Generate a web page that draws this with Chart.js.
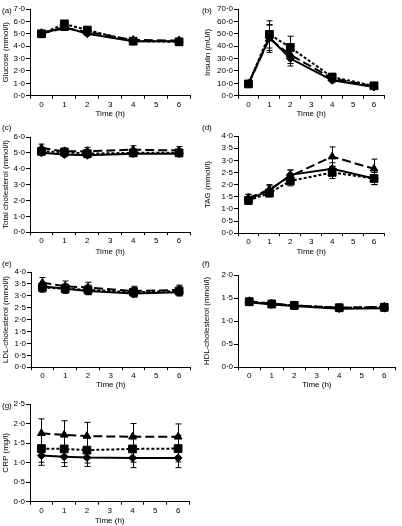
<!DOCTYPE html>
<html><head><meta charset="utf-8">
<script src="https://cdn.jsdelivr.net/npm/chart.js@4/dist/chart.umd.min.js"></script>
<style>
html,body{margin:0;padding:0;background:#fff;width:402px;height:526px;overflow:hidden;position:relative;font-family:'Liberation Sans',Arial,sans-serif}
canvas{position:absolute}
.lab{position:absolute;font-size:8px;color:#000;line-height:9px;white-space:nowrap}
</style></head><body>
<script>
// ---- data ----
const timeLabels = ['0','1','2','3','4','5','6'];
const times = [0,1,2,4,6];

// (a) Glucose (mmol/l)
const glucoseDiamond = [5.0, 5.55, 5.0, 4.4, 4.4];
const glucoseSquare = [5.0, 5.8, 5.3, 4.4, 4.35];
const glucoseTriangle = [5.05, 5.45, 5.15, 4.5, 4.45];
const glucoseErrDiamond = [0.1, 0.15, 0.12, 0.1, 0.1];
const glucoseErrSquare = [0.1, 0.15, 0.15, 0.1, 0.1];
const glucoseErrTriangle = [0.1, 0.12, 0.12, 0.1, 0.1];

// (b) Insulin (mU/l)
const insulinDiamond = [9.5, 47, 30, 12.5, 7];
const insulinSquare = [9.5, 49.5, 39, 15, 8];
const insulinTriangle = [9.5, 46, 33, 14, 7.5];
const insulinErrDiamond = [1, 10.5, 6, 2, 1];
const insulinErrSquare = [1, 11, 9, 3, 1.5];
const insulinErrTriangle = [1, 11, 7, 2.5, 1.5];

// (c) Total cholesterol (mmol/l)
const tcDiamond = [5.0, 4.9, 4.85, 4.95, 4.95];
const tcSquare = [5.1, 5.05, 4.95, 5.0, 5.0];
const tcTriangle = [5.3, 5.1, 5.1, 5.2, 5.15];
const tcErrDiamond = [0.15, 0.15, 0.15, 0.15, 0.15];
const tcErrSquare = [0.2, 0.2, 0.2, 0.2, 0.2];
const tcErrTriangle = [0.25, 0.2, 0.25, 0.25, 0.25];

// (d) TAG (mmol/l)
const tagDiamond = [1.4, 1.75, 2.4, 2.65, 2.25];
const tagSquare = [1.35, 1.65, 2.15, 2.5, 2.25];
const tagTriangle = [1.45, 1.8, 2.35, 3.15, 2.65];
const tagErrDiamond = [0.2, 0.2, 0.2, 0.25, 0.25];
const tagErrSquare = [0.15, 0.15, 0.2, 0.25, 0.25];
const tagErrTriangle = [0.15, 0.2, 0.25, 0.4, 0.4];

// (e) LDL-cholesterol (mmol/l)
const ldlDiamond = [3.4, 3.3, 3.2, 3.1, 3.15];
const ldlSquare = [3.35, 3.3, 3.25, 3.15, 3.2];
const ldlTriangle = [3.55, 3.4, 3.35, 3.2, 3.25];
const ldlErrDiamond = [0.15, 0.15, 0.15, 0.15, 0.15];
const ldlErrSquare = [0.2, 0.2, 0.2, 0.2, 0.2];
const ldlErrTriangle = [0.22, 0.22, 0.22, 0.2, 0.2];

// (f) HDL-cholesterol (mmol/l)
const hdlDiamond = [1.41, 1.36, 1.33, 1.27, 1.28];
const hdlSquare = [1.42, 1.37, 1.34, 1.29, 1.30];
const hdlTriangle = [1.43, 1.38, 1.34, 1.29, 1.31];
const hdlErrDiamond = [0.06, 0.06, 0.06, 0.06, 0.06];
const hdlErrSquare = [0.07, 0.07, 0.07, 0.07, 0.07];
const hdlErrTriangle = [0.07, 0.07, 0.07, 0.07, 0.07];

// (g) CRP (mg/l)
const crpDiamond = [1.18, 1.15, 1.13, 1.12, 1.12];
const crpSquare = [1.36, 1.35, 1.32, 1.35, 1.36];
const crpTriangle = [1.75, 1.71, 1.68, 1.66, 1.66];
const crpErrDiamond = [0.25, 0.25, 0.23, 0.25, 0.25];
const crpErrSquare = [0.35, 0.35, 0.33, 0.34, 0.34];
const crpErrTriangle = [0.37, 0.36, 0.35, 0.34, 0.33];

// ---- layout (page pixels) ----
const panels = [
  {letter:'(a)', title:'Glucose (mmol/l)', max:7, step:1, x0:0, L:30, R:193, T:9, B:96, tx:6, titY:114.5, lx:2, ly:10,
   series:[[glucoseDiamond,glucoseErrDiamond],[glucoseSquare,glucoseErrSquare],[glucoseTriangle,glucoseErrTriangle]]},
  {letter:'(b)', title:'Insulin (mU/l)', max:70, step:10, x0:200, L:238, R:387, T:9, B:96, tx:208, titY:114.5, lx:202, ly:10,
   series:[[insulinDiamond,insulinErrDiamond],[insulinSquare,insulinErrSquare],[insulinTriangle,insulinErrTriangle]]},
  {letter:'(c)', title:'Total cholesterol (mmol/l)', max:6, step:1, x0:0, L:30, R:193, T:137, B:232, tx:5.5, titY:252, lx:2, ly:127,
   series:[[tcDiamond,tcErrDiamond],[tcSquare,tcErrSquare],[tcTriangle,tcErrTriangle]]},
  {letter:'(d)', title:'TAG (mmol/l)', max:4, step:0.5, x0:200, L:238, R:387, T:136, B:233, tx:208, titY:252, lx:202, ly:127,
   series:[[tagDiamond,tagErrDiamond],[tagSquare,tagErrSquare],[tagTriangle,tagErrTriangle]]},
  {letter:'(e)', title:'LDL-cholesterol (mmol/l)', max:4, step:0.5, x0:0, L:31, R:193, T:272, B:367, tx:5.5, titY:385, lx:2, ly:263,
   series:[[ldlDiamond,ldlErrDiamond],[ldlSquare,ldlErrSquare],[ldlTriangle,ldlErrTriangle]]},
  {letter:'(f)', title:'HDL-cholesterol (mmol/l)', max:2, step:0.5, x0:200, L:238, R:401, T:275, B:367, tx:207, titY:385, lx:202, ly:263,
   series:[[hdlDiamond,hdlErrDiamond],[hdlSquare,hdlErrSquare],[hdlTriangle,hdlErrTriangle]]},
  {letter:'(g)', title:'CRP (mg/l)', max:2.5, step:0.5, x0:0, L:30, R:192, T:404, B:502, tx:5.5, titY:521.5, lx:2, ly:405,
   series:[[crpDiamond,crpErrDiamond],[crpSquare,crpErrSquare],[crpTriangle,crpErrTriangle]]}
];

const styles = [
  {pointStyle:'rectRot', pointRadius:4, borderDash:[]},
  {pointStyle:'rect', pointRadius:5.5, borderDash:[3,2]},
  {pointStyle:'triangle', pointRadius:4.5, borderDash:[9,4]}
];

Chart.defaults.font.family = "'Liberation Sans', Arial, sans-serif";
Chart.defaults.font.size = 8;
Chart.defaults.color = '#000';

const errorBars = {
  id:'errorBars',
  beforeDatasetsDraw(chart){
    const ctx = chart.ctx, ys = chart.scales.y;
    chart.data.datasets.forEach((ds, di) => {
      const meta = chart.getDatasetMeta(di);
      meta.data.forEach((pt, i) => {
        const v = ds.data[i].y, e = ds.err[i];
        const x = Math.round(pt.x) + 0.5;
        const yt = ys.getPixelForValue(v + e), yb = ys.getPixelForValue(v - e);
        ctx.save();
        ctx.strokeStyle = '#000'; ctx.lineWidth = 1; ctx.setLineDash([]);
        ctx.beginPath();
        ctx.moveTo(x, yt); ctx.lineTo(x, yb);
        ctx.moveTo(x - 3, yt); ctx.lineTo(x + 3, yt);
        ctx.moveTo(x - 3, yb); ctx.lineTo(x + 3, yb);
        ctx.stroke();
        ctx.restore();
      });
    });
  }
};

const fmt = v => Number(v).toFixed(1).replace('.', '\u00B7');
const LH = 9.6; // 8px * 1.2

panels.forEach(p => {
  const top = p.T - 10;
  const bottom = p.titY + LH / 2;
  const width = Math.min(402 - p.x0, p.R + 4 - p.x0);
  const height = bottom - top;
  const padL = p.tx - LH / 2 - p.x0;
  const yW = p.L - p.x0 - padL;
  const xH = bottom - p.B;
  const padR = width - (p.R - p.x0);

  const cv = document.createElement('canvas');
  cv.width = width; cv.height = Math.round(height);
  cv.style.left = p.x0 + 'px'; cv.style.top = top + 'px';
  document.body.appendChild(cv);

  const lab = document.createElement('div');
  lab.className = 'lab'; lab.textContent = p.letter;
  lab.style.left = p.lx + 'px'; lab.style.top = (p.ly - 4.5) + 'px';
  document.body.appendChild(lab);

  const datasets = p.series.map((s, k) => Object.assign({
    data: times.map((t, i) => ({x: String(t), y: s[0][i]})),
    err: s[1],
    borderColor:'#000', backgroundColor:'#000', borderWidth:2,
    pointBorderColor:'#000', pointBackgroundColor:'#000', pointBorderWidth:1,
    fill:false, tension:0, spanGaps:true
  }, styles[k]));

  new Chart(cv, {
    type:'line',
    data:{labels: timeLabels, datasets},
    options:{
      responsive:false, animation:false, devicePixelRatio:1,
      layout:{padding:{top:10, left:padL, right:padR, bottom:0}},
      plugins:{legend:{display:false}, tooltip:{enabled:false}},
      scales:{
        x:{type:'category', offset:true,
           grid:{offset:true, drawOnChartArea:false, drawTicks:true, tickLength:3, color:'#000', lineWidth:1},
           border:{display:true, color:'#000', width:1},
           ticks:{padding:1, maxRotation:0, autoSkip:false, font:{size:8}},
           title:{display:true, text:'Time (h)', padding:0, font:{size:8}},
           afterFit: sc => { sc.height = xH; }
        },
        y:{type:'linear', min:0, max:p.max,
           grid:{drawOnChartArea:false, drawTicks:true, tickLength:4, color:'#000', lineWidth:1},
           border:{display:true, color:'#000', width:1},
           ticks:{stepSize:p.step, padding:1, autoSkip:false, callback: v => fmt(v), font:{size:8}},
           title:{display:true, text:p.title, padding:0, font:{size:8}},
           afterFit: sc => { sc.width = yW; }
        }
      }
    },
    plugins:[errorBars]
  });
});
</script>
</body></html>
